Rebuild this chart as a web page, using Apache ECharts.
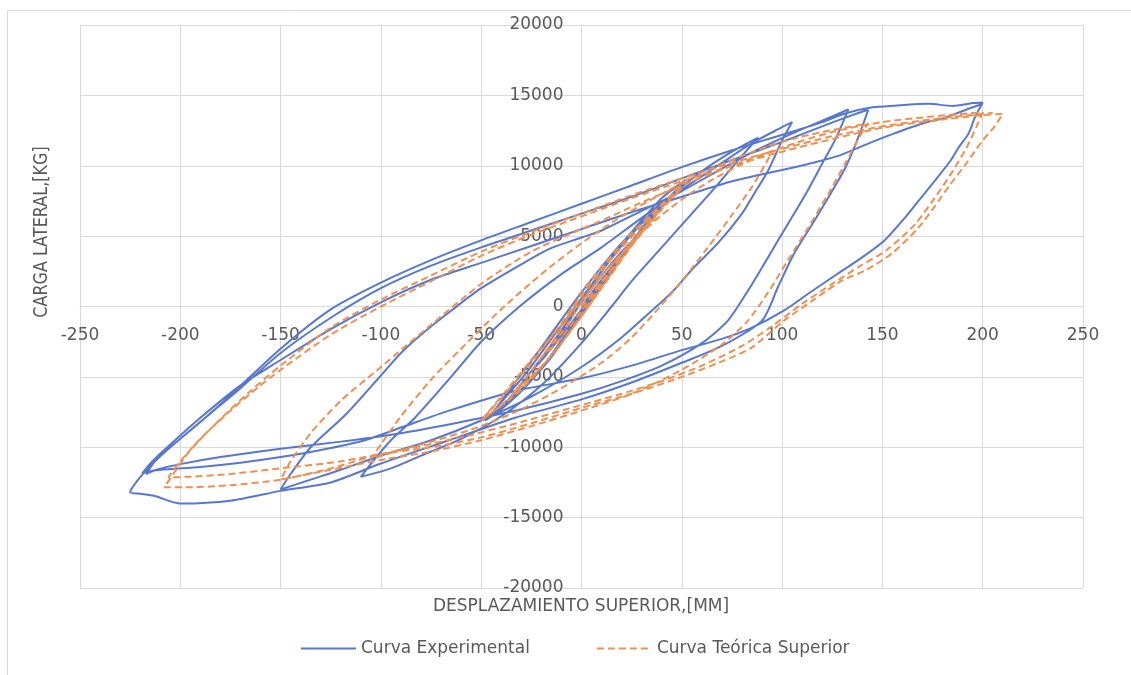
<!DOCTYPE html>
<html>
<head>
<meta charset="utf-8">
<script src="https://cdn.jsdelivr.net/npm/echarts@6/dist/echarts.min.js"></script>
<style>
html,body{margin:0;padding:0;background:#fff;}
#chart{width:1131px;height:675px;}
</style>
</head>
<body>
<div id="chart"></div>
<script>
// ---- Axis settings ----
var xMin = -250, xMax = 250, xStep = 50;
var yMin = -20000, yMax = 20000, yStep = 5000;
var xTitle = 'DESPLAZAMIENTO SUPERIOR,[MM]';
var yTitle = 'CARGA LATERAL,[KG]';
var seriesNames = ['Curva Experimental', 'Curva Teórica Superior'];

// ---- Experimental curve (mm, kg) ----
var expSmall = [[0,0],[10,1900],[20,3600],[25,4400],[18,3300],[10,1800],[0,-200],[-10,-2100],[-20,-3800],[-25,-4600],[-18,-3500],[-10,-1900],[0,300],[10,2200],[20,3900],[25,4600],[38,6700],[30,5400],[18,3200],[5,500],[-8,-2200],[-20,-4400],[-30,-5900],[-38,-6900],[-30,-5500],[-18,-3300],[-5,-600],[8,2100],[20,4300],[30,5900],[38,6900],[50,8600],[42,7400],[30,5400],[15,2500],[0,-500],[-15,-3600],[-30,-6000],[-40,-7300],[-48,-8100],[-40,-6800],[-28,-4800],[-15,-2300],[0,600],[15,3500],[28,5800],[40,7700],[52,9000],[44,7800],[32,5900],[18,3200],[5,700],[-8,-2000],[-20,-4400],[-32,-6300],[-45,-7700]];
var expB_up = [[-32,-5200],[-20,-2900],[0,1000],[20,4500],[40,7300],[60,9600],[75,11000],[88,12000]];
var expB_down = [[80,10700],[65,8200],[50,5800],[40,4200],[25,1800],[15,0],[0,-2600],[-20,-5600],[-40,-7800],[-60,-9400],[-80,-10600],[-95,-11500],[-110,-12100]];
var expC_up = [[-104,-11000],[-95,-9500],[-83,-7900],[-65,-5000],[-50,-2500],[-30,100],[-10,2300],[10,4200],[30,6300],[50,8300],[70,10200],[85,11600],[98,12600],[105,13100]];
var expC_down = [[100,11800],[93,9650],[86,8000],[80,6600],[68,4500],[56,2770],[45,1000],[35,-300],[20,-2200],[0,-4300],[-25,-6400],[-50,-8100],[-75,-9500],[-100,-10600],[-120,-11600],[-135,-12300],[-150,-13000]];
var expD1_up = [[-145,-11900],[-135,-10000],[-117,-7600],[-100,-4900],[-90,-3300],[-80,-2000],[-65,-300],[-50,1300],[-30,3000],[-16,4100],[0,4900],[10,5400],[30,6800],[50,8200],[70,9800],[90,11300],[110,12600],[125,13500],[133,14000]];
var expD1_down = [[127,12000],[120,10150],[113,8300],[106,6600],[98,4700],[90,2770],[82,900],[73,-1000],[60,-2600],[40,-4200],[20,-5300],[0,-6200],[-30,-7300],[-60,-8200],[-90,-9000],[-120,-9600],[-150,-10100],[-180,-10700],[-200,-11200],[-212,-11600],[-217,-11900]];
var expD2_up = [[-212,-10900],[-200,-9400],[-185,-7600],[-170,-5800],[-150,-3300],[-125,-800],[-100,1300],[-75,2900],[-50,4200],[-25,5400],[0,6600],[25,7800],[50,9100],[75,10400],[100,11700],[120,12800],[135,13600],[143,14000]];
var expD2_down = [[140,12800],[136,11300],[132,10000],[128,8950],[117,6300],[106,3760],[98,1400],[90,-1000],[70,-2800],[50,-4000],[25,-5400],[0,-6600],[-33,-7900],[-66,-9500],[-100,-11150],[-125,-12500],[-150,-13100],[-175,-13800],[-200,-14000],[-213,-13450],[-220,-13300],[-225,-13200]];
var expE_up = [[-221,-12300],[-214,-11200],[-205,-10000],[-190,-8200],[-175,-6300],[-150,-3000],[-125,-200],[-100,1700],[-75,3300],[-50,4700],[-25,6000],[0,7300],[25,8600],[50,9900],[75,11100],[100,12200],[120,13100],[131,13700],[145,14150],[156,14270],[173,14400],[185,14250],[195,14450],[200,14500]];
var expE_down = [[196,13400],[193,12300],[188,11300],[184,10370],[176,8900],[168,7500],[160,6100],[151,4690],[141,3600],[130,2550],[115,1100],[101,-280],[85,-1500],[70,-2300],[50,-3100],[25,-4200],[0,-5100],[-33,-6000],[-66,-7400],[-90,-8600],[-108,-9500],[-130,-10200],[-150,-10700],[-170,-11100],[-190,-11400],[-205,-11550],[-213,-11650],[-219,-11850]];
var expF_up = [[-214,-11000],[-205,-9800],[-190,-7900],[-170,-5600],[-150,-3800],[-125,-1600],[-100,300],[-75,1900],[-50,3100],[-25,4300],[0,5500],[25,6700],[50,7800],[75,8900],[100,9700],[115,10200],[128,10700],[145,11700],[156,12300],[170,13000],[181,13400],[192,14000],[200,14400]];

// ---- Theoretical curve (mm, kg) ----
var teoSmall = [[0,0],[10,1800],[20,3500],[10,1700],[0,-300],[-10,-2200],[-20,-3600],[-10,-1900],[0,300],[10,2200],[20,3700],[35,6200],[25,4600],[12,2000],[0,-600],[-15,-3500],[-35,-6300],[-25,-4600],[-12,-2000],[0,700],[15,3400],[35,6400],[50,8400],[40,6900],[25,4300],[10,1300],[-10,-2600],[-30,-5900],[-50,-8100],[-40,-6500],[-25,-4000],[-10,-1200],[5,1900],[25,5200],[50,8600],[40,7000],[22,3800],[0,-700],[-20,-4300],[-40,-7000],[-50,-8100]];
var teoB_up = [[-40,-6400],[-25,-3800],[-10,-1300],[5,1300],[20,3800],[35,5900],[50,7600],[65,9000],[80,10100],[95,11000]];
var teoB_down = [[92,10200],[85,8500],[75,6500],[63,4200],[50,1800],[38,-200],[25,-2200],[10,-4000],[-10,-5800],[-30,-7300],[-50,-8500],[-70,-9400],[-90,-10200],[-105,-10800]];
var teoC_up = [[-100,-9800],[-90,-7800],[-75,-5200],[-60,-3000],[-40,-200],[-20,2300],[0,4500],[20,6400],[40,8000],[60,9500],[80,10700],[100,11700],[120,12400],[143,13000]];
var teoC_down = [[140,12400],[132,10300],[123,8000],[113,5600],[103,3300],[93,1000],[83,-1000],[70,-2700],[50,-4500],[25,-6200],[0,-7400],[-25,-8500],[-50,-9500],[-75,-10300],[-100,-10900],[-125,-11600],[-150,-12300]];
var teoD_up = [[-145,-11000],[-135,-9000],[-120,-6700],[-100,-4300],[-75,-1300],[-50,1600],[-25,3900],[0,5500],[10,6100],[30,7400],[50,8600],[75,10000],[100,11300],[125,12400],[150,13100],[175,13500],[200,13800]];
var teoD_down = [[197,12800],[192,11300],[185,9600],[176,7700],[166,5800],[152,4000],[138,2800],[125,1600],[110,200],[95,-1400],[80,-2800],[60,-4200],[40,-5300],[20,-6200],[0,-7000],[-30,-8200],[-60,-9300],[-90,-10200],[-120,-11000],[-150,-11500],[-175,-11900],[-195,-12100],[-206,-12140]];
var teoE_up = [[-200,-11000],[-190,-9400],[-175,-7400],[-160,-5600],[-150,-4500],[-125,-2000],[-100,0],[-75,1800],[-50,3600],[-25,5100],[0,6400],[25,7700],[50,8900],[75,10000],[100,11000],[125,11900],[150,12700],[175,13200],[200,13600],[210,13700]];
var teoE_down = [[206,12800],[200,11800],[192,10200],[184,8700],[176,7100],[168,5600],[155,3800],[142,2600],[130,1850],[115,400],[101,-1000],[85,-2900],[70,-3900],[50,-5000],[25,-6200],[0,-7200],[-25,-8300],[-50,-9300],[-75,-10000],[-100,-10500],[-125,-11500],[-150,-12300],[-175,-12700],[-198,-12850],[-208,-12850]];
var teoF_up = [[-203,-11800],[-195,-10200],[-180,-8000],[-165,-6000],[-150,-4200],[-125,-1500],[-100,500],[-75,2200],[-50,3900],[-25,5300],[0,6600],[25,7900],[50,9100],[75,10200],[100,11200],[125,12100],[150,12800],[175,13300],[200,13700],[205,13750]];

var expData = [].concat(expSmall, expB_up, expB_down, expC_up, expC_down, expD1_up, expD1_down, expD2_up, expD2_down, expE_up, expE_down, expF_up);
var teoData = [].concat(teoSmall, teoB_up, teoB_down, teoC_up, teoC_down, teoD_up, teoD_down, teoE_up, teoE_down, teoF_up);

var textColor = '#595959';
var gridColor = '#d9d9d9';
var font = '"DejaVu Sans", sans-serif';

var gridLeft = 80, gridRight = 48, gridTop = 25, gridBottom = 87;
var W = 1131, H = 675;
var plotW = W - gridLeft - gridRight, plotH = H - gridTop - gridBottom;
// axes cross at zero (middle of symmetric ranges)
var xAxisOffset = -plotH * (0 - yMin) / (yMax - yMin);
var yAxisOffset = -plotW * (0 - xMin) / (xMax - xMin);

var chart = echarts.init(document.getElementById('chart'), null, {renderer: 'canvas'});
chart.setOption({
  animation: false,
  backgroundColor: '#ffffff',
  grid: {left: gridLeft, right: gridRight, top: gridTop, bottom: gridBottom, containLabel: false},
  xAxis: {
    type: 'value', min: xMin, max: xMax, interval: xStep,
    position: 'bottom', offset: xAxisOffset,
    axisLine: {show: true, onZero: false, lineStyle: {color: gridColor, width: 1}},
    axisTick: {show: false},
    axisLabel: {margin: 21, color: textColor, fontFamily: font, fontSize: 17, formatter: function (v) { return String(v); }},
    splitLine: {show: true, lineStyle: {color: gridColor, width: 1}}
  },
  yAxis: {
    type: 'value', min: yMin, max: yMax, interval: yStep,
    position: 'left', offset: yAxisOffset,
    axisLine: {show: true, onZero: false, lineStyle: {color: gridColor, width: 1}},
    axisTick: {show: false},
    axisLabel: {margin: 18, color: textColor, fontFamily: font, fontSize: 17, formatter: function (v) { return String(v); }},
    splitLine: {show: true, lineStyle: {color: gridColor, width: 1}}
  },
  legend: {
    left: 300, top: 640, padding: 0,
    itemWidth: 55, itemHeight: 14, itemGap: 66,
    itemStyle: {opacity: 0},
    textStyle: {color: textColor, fontFamily: font, fontSize: 17},
    data: seriesNames
  },
  graphic: [
    {type: 'rect', silent: true, shape: {x: 7.5, y: 10.5, width: 1140, height: 700},
     style: {fill: 'none', stroke: gridColor, lineWidth: 1}},
    {type: 'text', x: 581, y: 607,
     style: {text: xTitle, fill: textColor, fontFamily: font, fontSize: 17, align: 'center', verticalAlign: 'middle'}},
    {type: 'text', x: 42, y: 232, rotation: Math.PI / 2, scaleY: 1.25,
     style: {text: yTitle, fill: textColor, fontFamily: font, fontSize: 16, align: 'center', verticalAlign: 'middle'}}
  ],
  series: [
    {
      name: seriesNames[0], type: 'line', data: expData,
      showSymbol: false, symbol: 'none', smooth: 0.25,
      lineStyle: {color: '#5878cf', width: 2},
      itemStyle: {color: '#5878cf'}
    },
    {
      name: seriesNames[1], type: 'line', data: teoData,
      showSymbol: false, symbol: 'none', smooth: 0.25,
      lineStyle: {color: '#ee9052', width: 2, type: [7, 4]},
      itemStyle: {color: '#ee9052'}
    }
  ]
});
</script>
</body>
</html>
